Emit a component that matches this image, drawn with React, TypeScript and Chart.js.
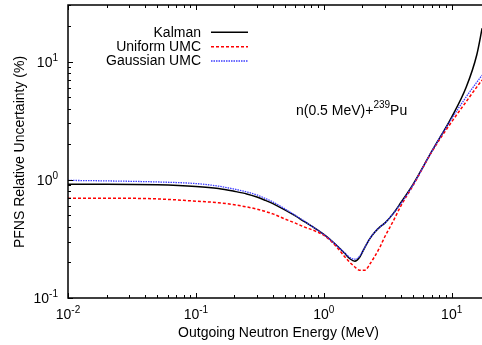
import React, { useEffect, useRef } from "react";
import { Chart, registerables } from "chart.js";

Chart.register(...registerables);

// ---- data ----
const energy = [0.01, 0.02, 0.05, 0.1, 0.15, 0.2, 0.25, 0.3, 0.35, 0.4, 0.5, 0.6, 0.7, 0.85, 1.0, 1.15, 1.3, 1.45, 1.6, 1.75, 1.9, 2.1, 2.3, 2.5, 2.75, 3.0, 3.5, 4.0, 5.0, 7.0, 10, 13, 15.7, 17.3];
const kalman = [0.92, 0.92, 0.91, 0.88, 0.845, 0.80, 0.76, 0.715, 0.67, 0.63, 0.555, 0.495, 0.445, 0.39, 0.345, 0.305, 0.27, 0.24, 0.215, 0.205, 0.22, 0.27, 0.32, 0.36, 0.40, 0.43, 0.52, 0.64, 0.92, 1.75, 3.4, 6.1, 11.4, 19.2];
const uniformUMC = [0.70, 0.70, 0.69, 0.66, 0.64, 0.615, 0.59, 0.565, 0.54, 0.515, 0.465, 0.43, 0.40, 0.37, 0.34, 0.30, 0.26, 0.225, 0.20, 0.183, 0.172, 0.172, 0.195, 0.225, 0.27, 0.33, 0.45, 0.60, 0.90, 1.73, 3.1, 4.6, 6.1, 7.0];
const gaussianUMC = [0.99, 0.98, 0.96, 0.93, 0.885, 0.835, 0.79, 0.745, 0.695, 0.65, 0.565, 0.50, 0.45, 0.39, 0.345, 0.305, 0.27, 0.242, 0.22, 0.213, 0.225, 0.27, 0.32, 0.36, 0.40, 0.43, 0.52, 0.63, 0.91, 1.75, 3.3, 5.05, 6.7, 7.7];

const seriesNames = ["Kalman", "Uniform UMC", "Gaussian UMC"];
const xTickValues = [0.01, 0.1, 1, 10];
const xTickExponents = ["-2", "-1", "0", "1"];
const yTickValues = [0.1, 1, 10];
const yTickExponents = ["-1", "0", "1"];
const xTitle = "Outgoing Neutron Energy (MeV)";
const yTitle = "PFNS Relative Uncertainty (%)";
const annotationMain = "n(0.5 MeV)+";
const annotationSup = "239";
const annotationTail = "Pu";

const X_MIN = 0.01;
const X_MAX = 17.26;
const Y_MIN = 0.1;
const Y_MAX = 30.2;

const FONT = '"Liberation Sans", Arial, Helvetica, sans-serif';

const colors = ["#000000", "#ff0000", "#3c3cff"];
const widths = [1.5, 1.5, 1.3];
const dashes: number[][] = [[], [3, 2], [1.5, 1]];

function drawPow(ctx: CanvasRenderingContext2D, base: string, exp: string, x: number, baseline: number, align: "center" | "right") {
  ctx.font = `14px ${FONT}`;
  const bw = ctx.measureText(base).width;
  ctx.font = `10px ${FONT}`;
  const ew = ctx.measureText(exp).width;
  const total = bw + ew;
  const start = align === "center" ? x - total / 2 : x - total;
  ctx.textAlign = "left";
  ctx.textBaseline = "alphabetic";
  ctx.font = `14px ${FONT}`;
  ctx.fillText(base, start, baseline);
  ctx.font = `10px ${FONT}`;
  ctx.fillText(exp, start + bw, baseline - 6);
}

const extrasPlugin = {
  id: "extras",
  afterDatasetsDraw(chart: any) {
    const { ctx, chartArea: a, scales } = chart;
    const xs = scales.x;
    const ys = scales.y;
    ctx.save();
    ctx.fillStyle = "#000";
    ctx.strokeStyle = "#000";
    ctx.setLineDash([]);

    // ticks (inward)
    ctx.lineWidth = 1;
    ctx.beginPath();
    for (let d = -2; d <= 1; d++) {
      for (let m = 1; m <= 9; m++) {
        const v = m * Math.pow(10, d);
        if (v < X_MIN * 0.999 || v > X_MAX) continue;
        const px = Math.round(xs.getPixelForValue(v)) + 0.5;
        const len = m === 1 ? 5 : 3;
        ctx.moveTo(px, a.bottom);
        ctx.lineTo(px, a.bottom - len);
        ctx.moveTo(px, a.top);
        ctx.lineTo(px, a.top + len);
      }
    }
    for (let d = -1; d <= 1; d++) {
      for (let m = 1; m <= 9; m++) {
        const v = m * Math.pow(10, d);
        if (v < Y_MIN * 0.999 || v > Y_MAX) continue;
        const py = Math.round(ys.getPixelForValue(v)) + 0.5;
        const len = m === 1 ? 5 : 3;
        ctx.moveTo(a.left, py);
        ctx.lineTo(a.left + len, py);
      }
    }
    ctx.stroke();

    // border
    ctx.lineWidth = 1.5;
    ctx.beginPath();
    ctx.moveTo(a.right + 2, a.top);
    ctx.lineTo(a.left, a.top);
    ctx.lineTo(a.left, a.bottom);
    ctx.lineTo(a.right + 2, a.bottom);
    ctx.stroke();

    // tick labels
    xTickValues.forEach((v, i) => {
      const px = xs.getPixelForValue(v);
      drawPow(ctx, "10", xTickExponents[i], px, 318.5, "center");
    });
    yTickValues.forEach((v, i) => {
      const py = ys.getPixelForValue(v);
      drawPow(ctx, "10", yTickExponents[i], 58, py + 5, "right");
    });

    // axis titles
    ctx.font = `14px ${FONT}`;
    ctx.textAlign = "center";
    ctx.textBaseline = "alphabetic";
    ctx.fillText(xTitle, 278.5, 337);
    ctx.save();
    ctx.translate(24, 152);
    ctx.rotate(-Math.PI / 2);
    ctx.fillText(yTitle, 0, 0);
    ctx.restore();

    // legend
    const rows = [32.3, 46.7, 61];
    seriesNames.forEach((name, i) => {
      ctx.font = `14px ${FONT}`;
      ctx.textAlign = "right";
      ctx.textBaseline = "middle";
      ctx.fillStyle = "#000";
      ctx.fillText(name, 201, rows[i] + 0.5);
      ctx.beginPath();
      ctx.strokeStyle = colors[i];
      ctx.lineWidth = widths[i];
      ctx.setLineDash(dashes[i]);
      ctx.moveTo(211, rows[i]);
      ctx.lineTo(248, rows[i]);
      ctx.stroke();
    });
    ctx.setLineDash([]);

    // annotation
    ctx.fillStyle = "#000";
    ctx.textAlign = "left";
    ctx.textBaseline = "alphabetic";
    ctx.font = `14px ${FONT}`;
    let x = 296;
    ctx.fillText(annotationMain, x, 115);
    x += ctx.measureText(annotationMain).width;
    ctx.font = `10px ${FONT}`;
    ctx.fillText(annotationSup, x, 108);
    x += ctx.measureText(annotationSup).width;
    ctx.font = `14px ${FONT}`;
    ctx.fillText(annotationTail, x, 115);

    ctx.restore();
  },
};

export default function App() {
  const ref = useRef<HTMLCanvasElement | null>(null);
  useEffect(() => {
    if (!ref.current) return;
    const series = [kalman, uniformUMC, gaussianUMC];
    const chart = new Chart(ref.current, {
      type: "line",
      data: {
        datasets: series.map((vals, i) => ({
          label: seriesNames[i],
          data: energy.map((e, j) => ({ x: e, y: vals[j] })),
          borderColor: colors[i],
          borderWidth: widths[i],
          borderDash: dashes[i],
          pointRadius: 0,
          fill: false,
          cubicInterpolationMode: "monotone" as const,
          order: 2 - i,
        })),
      },
      options: {
        animation: false,
        responsive: false,
        events: [],
        layout: { padding: { top: 5, right: 0, left: 0, bottom: 0 } },
        plugins: { legend: { display: false }, tooltip: { enabled: false }, title: { display: false } },
        scales: {
          x: {
            type: "logarithmic",
            min: X_MIN,
            max: X_MAX,
            ticks: { display: false },
            grid: { display: false },
            border: { display: false },
            afterFit: (s: any) => {
              s.height = 47;
            },
          },
          y: {
            type: "logarithmic",
            min: Y_MIN,
            max: Y_MAX,
            ticks: { display: false },
            grid: { display: false },
            border: { display: false },
            afterFit: (s: any) => {
              s.width = 68;
            },
          },
        },
      },
      plugins: [extrasPlugin],
    });
    return () => chart.destroy();
  }, []);
  return (
    <div style={{ position: "absolute", left: 0, top: 0, width: 482, height: 345, background: "#fff" }}>
      <canvas ref={ref} width={482} height={345} style={{ display: "block" }} />
    </div>
  );
}
